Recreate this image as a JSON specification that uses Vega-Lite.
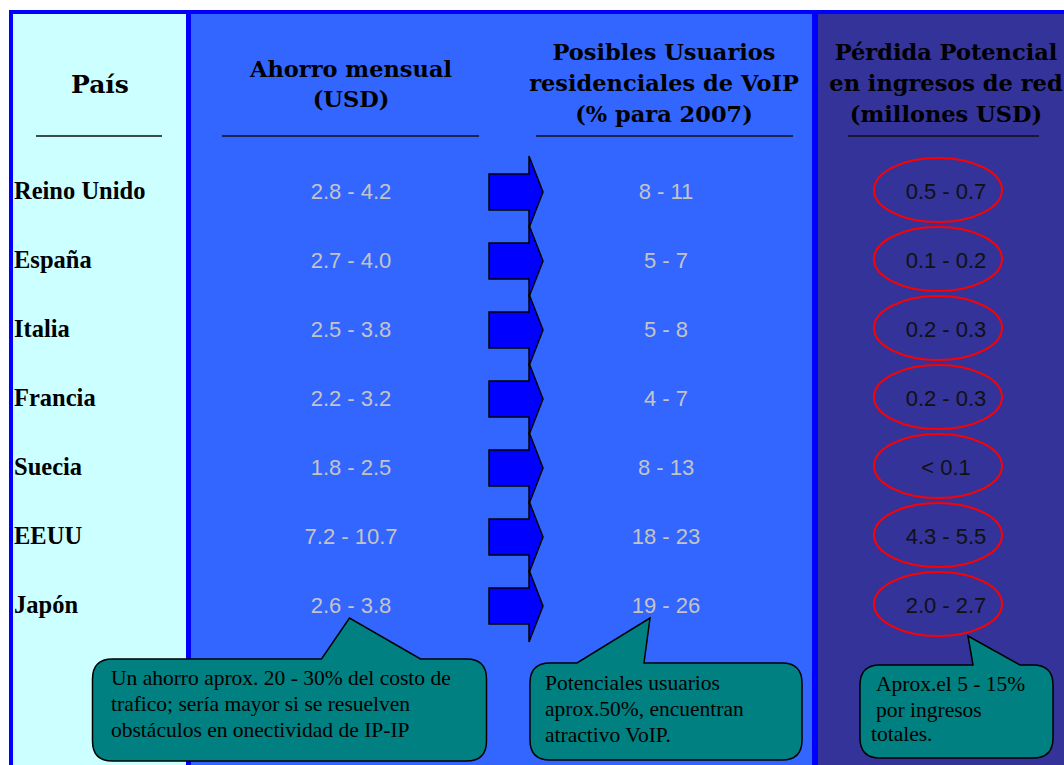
{
  "$schema": "https://vega.github.io/schema/vega-lite/v6.json",
  "width": 1064,
  "height": 765,
  "autosize": {"type": "none"},
  "padding": 0,
  "background": "white",
  "config": {"view": {"stroke": null}, "axis": {"disable": true}},
  "layer": [
    {
      "data": {"values": [{}]},
      "layer": [
        {
          "mark": {"type": "rect", "fill": "#0000FF"},
          "encoding": {
            "x": {"datum": 9, "type": "quantitative", "scale": {"domain": [0, 1064], "nice": false, "zero": false}, "axis": null},
            "x2": {"datum": 1064},
            "y": {"datum": 10, "type": "quantitative", "scale": {"domain": [0, 765], "nice": false, "zero": false, "reverse": true}, "axis": null},
            "y2": {"datum": 765}
          }
        },
        {
          "mark": {"type": "rect", "fill": "#CCFFFF"},
          "encoding": {"x": {"datum": 13}, "x2": {"datum": 186}, "y": {"datum": 14}, "y2": {"datum": 765}}
        },
        {
          "mark": {"type": "rect", "fill": "#3366FF"},
          "encoding": {"x": {"datum": 191}, "x2": {"datum": 812}, "y": {"datum": 14}, "y2": {"datum": 765}}
        },
        {
          "mark": {"type": "rect", "fill": "#333399"},
          "encoding": {"x": {"datum": 818}, "x2": {"datum": 1064}, "y": {"datum": 14}, "y2": {"datum": 765}}
        },
        {
          "mark": {"type": "rule", "stroke": "#111111", "strokeWidth": 1.5},
          "encoding": {"x": {"datum": 36}, "x2": {"datum": 162}, "y": {"datum": 136}}
        },
        {
          "mark": {"type": "rule", "stroke": "#111111", "strokeWidth": 1.5},
          "encoding": {"x": {"datum": 222}, "x2": {"datum": 479}, "y": {"datum": 136}}
        },
        {
          "mark": {"type": "rule", "stroke": "#111111", "strokeWidth": 1.5},
          "encoding": {"x": {"datum": 536}, "x2": {"datum": 793}, "y": {"datum": 136}}
        },
        {
          "mark": {"type": "rule", "stroke": "#111111", "strokeWidth": 1.5},
          "encoding": {"x": {"datum": 848}, "x2": {"datum": 1039}, "y": {"datum": 136}}
        },
        {
          "mark": {"type": "text", "text": "País", "font": "DejaVu Serif", "fontWeight": "bold", "fontSize": 25, "align": "center", "baseline": "alphabetic", "color": "black"},
          "encoding": {"x": {"datum": 100}, "y": {"datum": 93}}
        },
        {
          "mark": {"type": "text", "text": ["Ahorro mensual", "(USD)"], "lineHeight": 30, "font": "DejaVu Serif", "fontWeight": "bold", "fontSize": 22.5, "align": "center", "baseline": "alphabetic", "color": "black"},
          "encoding": {"x": {"datum": 351}, "y": {"datum": 77}}
        },
        {
          "mark": {"type": "text", "text": ["Posibles Usuarios", "residenciales de VoIP", "(% para 2007)"], "lineHeight": 31, "font": "DejaVu Serif", "fontWeight": "bold", "fontSize": 22.5, "align": "center", "baseline": "alphabetic", "color": "black"},
          "encoding": {"x": {"datum": 664}, "y": {"datum": 60}}
        },
        {
          "mark": {"type": "text", "text": ["Pérdida Potencial", "en ingresos de red", "(millones USD)"], "lineHeight": 31, "font": "DejaVu Serif", "fontWeight": "bold", "fontSize": 22.5, "align": "center", "baseline": "alphabetic", "color": "black"},
          "encoding": {"x": {"datum": 946}, "y": {"datum": 60}}
        },
        {
          "mark": {"type": "point", "shape": "M -177 -51 L 32 -51 L 60 -92 L 131 -51 L 177 -51 Q 197 -51 197 -31 L 197 31 Q 197 51 177 51 L -177 51 Q -197 51 -197 31 L -197 -31 Q -197 -51 -177 -51 Z", "size": 4, "filled": true, "fill": "#008080", "stroke": "black", "strokeWidth": 1.5, "opacity": 1},
          "encoding": {"x": {"datum": 289.5}, "y": {"datum": 710}}
        },
        {
          "mark": {"type": "point", "shape": "M -116 -48.5 L -89 -48.5 L -16 -93.5 L -22 -48.5 L 116 -48.5 Q 136 -48.5 136 -28.5 L 136 28.5 Q 136 48.5 116 48.5 L -116 48.5 Q -136 48.5 -136 28.5 L -136 -28.5 Q -136 -48.5 -116 -48.5 Z", "size": 4, "filled": true, "fill": "#008080", "stroke": "black", "strokeWidth": 1.5, "opacity": 1},
          "encoding": {"x": {"datum": 666}, "y": {"datum": 711.5}}
        },
        {
          "mark": {"type": "point", "shape": "M -76.5 -46.5 L 16.5 -46.5 L 11.5 -75.5 L 63.5 -46.5 L 76.5 -46.5 Q 96.5 -46.5 96.5 -26.5 L 96.5 26.5 Q 96.5 46.5 76.5 46.5 L -76.5 46.5 Q -96.5 46.5 -96.5 26.5 L -96.5 -26.5 Q -96.5 -46.5 -76.5 -46.5 Z", "size": 4, "filled": true, "fill": "#008080", "stroke": "black", "strokeWidth": 1.5, "opacity": 1},
          "encoding": {"x": {"datum": 956.5}, "y": {"datum": 711.5}}
        },
        {
          "mark": {"type": "text", "text": ["Un ahorro aprox. 20 - 30% del costo de", "trafico; sería mayor si se resuelven", "obstáculos en onectividad de IP-IP"], "lineHeight": 26, "font": "Liberation Serif", "fontSize": 21.5, "align": "left", "baseline": "alphabetic", "color": "black"},
          "encoding": {"x": {"datum": 111}, "y": {"datum": 685}}
        },
        {
          "mark": {"type": "text", "text": ["Potenciales usuarios", "aprox.50%, encuentran", "atractivo VoIP."], "lineHeight": 26, "font": "Liberation Serif", "fontSize": 21.5, "align": "left", "baseline": "alphabetic", "color": "black"},
          "encoding": {"x": {"datum": 545}, "y": {"datum": 690}}
        },
        {
          "mark": {"type": "text", "text": ["Aprox.el 5 - 15%", "por ingresos"], "lineHeight": 26, "font": "Liberation Serif", "fontSize": 21.5, "align": "left", "baseline": "alphabetic", "color": "black"},
          "encoding": {"x": {"datum": 876}, "y": {"datum": 691}}
        },
        {
          "mark": {"type": "text", "text": "totales.", "font": "Liberation Serif", "fontSize": 21.5, "align": "left", "baseline": "alphabetic", "color": "black"},
          "encoding": {"x": {"datum": 871}, "y": {"datum": 741}}
        }
      ]
    },
    {
      "data": {
        "values": [
          {"pais": "Reino Unido", "ahorro": "2.8 - 4.2", "usuarios": "8 - 11", "perdida": "0.5 - 0.7"},
          {"pais": "España", "ahorro": "2.7 - 4.0", "usuarios": "5 - 7", "perdida": "0.1 - 0.2"},
          {"pais": "Italia", "ahorro": "2.5 - 3.8", "usuarios": "5 - 8", "perdida": "0.2 - 0.3"},
          {"pais": "Francia", "ahorro": "2.2 - 3.2", "usuarios": "4  - 7", "perdida": "0.2 - 0.3"},
          {"pais": "Suecia", "ahorro": "1.8 - 2.5", "usuarios": "8 - 13", "perdida": "< 0.1"},
          {"pais": "EEUU", "ahorro": "7.2 - 10.7", "usuarios": "18 - 23", "perdida": "4.3 - 5.5"},
          {"pais": "Japón", "ahorro": "2.6 - 3.8", "usuarios": "19 - 26", "perdida": "2.0 - 2.7"}
        ]
      },
      "layer": [
        {
          "mark": {"type": "point", "shape": "M -27 -18 L 13 -18 L 13 -36 L 27 0 L 13 36 L 13 18 L -27 18 Z", "size": 4, "filled": true, "fill": "#0000FF", "stroke": "black", "strokeWidth": 1.5, "opacity": 1},
          "encoding": {
            "x": {"datum": 516},
            "y": {"field": "pais", "type": "nominal", "scale": {"type": "point", "domain": ["Reino Unido", "España", "Italia", "Francia", "Suecia", "EEUU", "Japón"], "range": [192, 606], "padding": 0}, "axis": null}
          }
        },
        {
          "mark": {"type": "text", "font": "Liberation Serif", "fontWeight": "bold", "fontSize": 24.5, "align": "left", "baseline": "middle", "color": "black"},
          "encoding": {"x": {"datum": 14}, "y": {"field": "pais", "type": "nominal"}, "text": {"field": "pais"}}
        },
        {
          "mark": {"type": "text", "font": "Liberation Sans", "fontSize": 22, "align": "center", "baseline": "middle", "color": "#C4C4C4"},
          "encoding": {"x": {"datum": 351}, "y": {"field": "pais", "type": "nominal"}, "text": {"field": "ahorro"}}
        },
        {
          "mark": {"type": "text", "font": "Liberation Sans", "fontSize": 22, "align": "center", "baseline": "middle", "color": "#C4C4C4"},
          "encoding": {"x": {"datum": 666}, "y": {"field": "pais", "type": "nominal"}, "text": {"field": "usuarios"}}
        },
        {
          "mark": {"type": "point", "shape": "M -64 0 A 64 32 0 1 0 64 0 A 64 32 0 1 0 -64 0 Z", "size": 4, "filled": false, "stroke": "#FF0000", "strokeWidth": 2, "opacity": 1, "yOffset": -2},
          "encoding": {"x": {"datum": 938}, "y": {"field": "pais", "type": "nominal"}}
        },
        {
          "mark": {"type": "text", "font": "Liberation Sans", "fontSize": 22, "align": "center", "baseline": "middle", "color": "#111111"},
          "encoding": {"x": {"datum": 946}, "y": {"field": "pais", "type": "nominal"}, "text": {"field": "perdida"}}
        }
      ]
    }
  ],
  "resolve": {"scale": {"y": "independent"}}
}
